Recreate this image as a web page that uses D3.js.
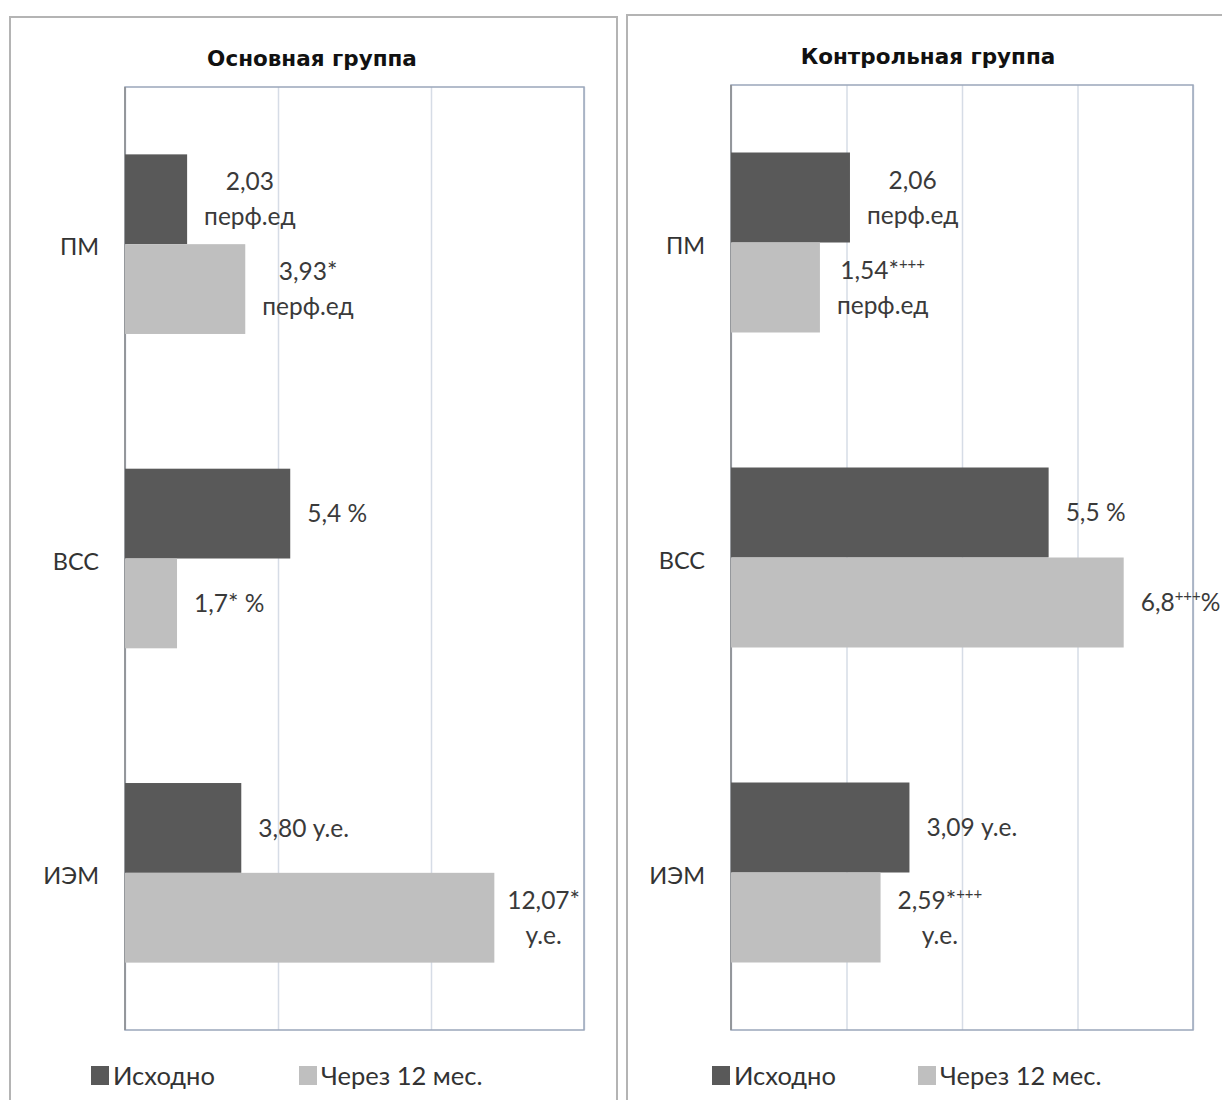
<!DOCTYPE html>
<html>
<head>
<meta charset="utf-8">
<script src="https://cdn.jsdelivr.net/npm/d3@7"></script>
<style>
  html, body { margin: 0; padding: 0; background: #fff; }
  svg { display: block; }
</style>
</head>
<body>
<svg id="chart" width="1222" height="1100"></svg>
<script>
// Categories (top to bottom) and series
const categories = ["ПМ", "ВСС", "ИЭМ"];
const seriesNames = ["Исходно", "Через 12 мес."];

// Основная группа
const mainBaseline = [2.03, 5.4, 3.80];
const mainAfter12 = [3.93, 1.7, 12.07];
const mainBaselineLabels = ["2,03\nперф.ед", "5,4 %", "3,80 у.е."];
const mainAfter12Labels = ["3,93*\nперф.ед", "1,7* %", "12,07*\nу.е."];
const mainTicks = [0, 5, 10, 15];

// Контрольная группа
const ctrlBaseline = [2.06, 5.5, 3.09];
const ctrlAfter12 = [1.54, 6.8, 2.59];
const ctrlBaselineLabels = ["2,06\nперф.ед", "5,5 %", "3,09 у.е."];
const ctrlAfter12Labels = ["1,54*^{+++}\nперф.ед", "6,8^{+++}%", "2,59*^{+++}\nу.е."];
const ctrlTicks = [0, 2, 4, 6, 8];

const seriesColors = ["#595959", "#bfbfbf"];
const labelFont = "Lato, 'Open Sans', sans-serif";
const labelSize = 24.5;

const svg = d3.select("#chart");

function drawPanel(cfg) {
  const g = svg.append("g");

  // outer chart frame
  g.append("rect")
    .attr("x", cfg.frame.x).attr("y", cfg.frame.y)
    .attr("width", cfg.frame.w).attr("height", cfg.frame.h)
    .attr("fill", "#fff").attr("stroke", "#b4b4b4").attr("stroke-width", 2);

  // title
  g.append("text")
    .attr("x", cfg.titleX).attr("y", cfg.titleY)
    .attr("text-anchor", "middle")
    .attr("font-family", "'DejaVu Sans', sans-serif")
    .attr("font-weight", "bold").attr("font-size", 21.5)
    .attr("fill", "#111")
    .text(cfg.title);

  const p = cfg.plot;
  const x = d3.scaleLinear().domain(cfg.domain).range([p.x0, p.x1]);
  const y = d3.scaleBand().domain(categories).range([p.y0, p.y1])
    .paddingInner(0.4286).paddingOuter(0.2143);
  const ySub = d3.scaleBand().domain(seriesNames).range([0, y.bandwidth()]);

  // vertical gridlines from a hidden value axis
  const grid = g.append("g")
    .attr("transform", `translate(0,${p.y1})`)
    .call(d3.axisBottom(x).tickValues(cfg.ticks).tickSize(-(p.y1 - p.y0)).tickFormat(""));
  grid.select(".domain").remove();
  grid.selectAll(".tick line").attr("stroke", "#d6dce6").attr("stroke-width", 1.5);

  // plot-area border
  g.append("rect")
    .attr("x", p.x0).attr("y", p.y0)
    .attr("width", p.x1 - p.x0).attr("height", p.y1 - p.y0)
    .attr("fill", "none").attr("stroke", "#9aa6ba").attr("stroke-width", 1.5);
  g.append("line")
    .attr("x1", p.x0).attr("x2", p.x0).attr("y1", p.y0).attr("y2", p.y1)
    .attr("stroke", "#8c8c8c").attr("stroke-width", 1.5);

  // category labels
  g.selectAll(".cat").data(categories).join("text")
    .attr("x", p.x0 - 26)
    .attr("y", d => y(d) + y.bandwidth() / 2 + 3)
    .attr("dy", "0.35em")
    .attr("text-anchor", "end")
    .attr("font-family", labelFont).attr("font-size", 23.5)
    .attr("fill", "#333")
    .text(d => d);

  const rows = [];
  cfg.series.forEach((vals, si) => {
    vals.forEach((v, ci) => rows.push({
      s: seriesNames[si], si, cat: categories[ci], v, label: cfg.labels[si][ci]
    }));
  });

  g.selectAll(".bar").data(rows).join("rect")
    .attr("x", x(0))
    .attr("y", d => y(d.cat) + ySub(d.s))
    .attr("width", d => x(d.v) - x(0))
    .attr("height", ySub.bandwidth())
    .attr("fill", d => seriesColors[d.si]);

  // data labels: block starts just past bar end, lines centred inside block;
  // wrapped (two-line) labels are kept inside the plot area
  const lineH = 35;
  rows.forEach(d => {
    const lines = d.label.split("\n");
    const cy = y(d.cat) + ySub(d.s) + ySub.bandwidth() / 2;
    const lg = g.append("g");
    const texts = lines.map((ln, i) => {
      const t = lg.append("text")
        .attr("y", cy + (i - (lines.length - 1) / 2) * lineH)
        .attr("dy", "0.35em")
        .attr("text-anchor", "middle")
        .attr("font-family", labelFont).attr("font-size", labelSize)
        .attr("fill", "#3a3a3a");
      const parts = ln.split(/(\^\{[^}]*\})/).filter(s => s.length);
      let shift = 0;
      parts.forEach(part => {
        const m = part.match(/^\^\{([^}]*)\}$/);
        if (m) {
          t.append("tspan").attr("font-size", 15).attr("dy", -10).text(m[1]);
          shift = 10;
        } else {
          const ts = t.append("tspan").text(part);
          if (shift) { ts.attr("dy", shift); shift = 0; }
        }
      });
      return t;
    });
    const w = d3.max(texts, t => t.node().getComputedTextLength());
    let left = x(d.v) + 17;
    if (lines.length > 1 && left + w > p.x1 - 4) left = p.x1 - 4 - w;
    const cx = left + w / 2;
    texts.forEach(t => t.attr("x", cx));
  });

  // legend
  const lg = g.append("g");
  cfg.legend.forEach((lx, i) => {
    lg.append("rect")
      .attr("x", lx).attr("y", cfg.legendY - 10)
      .attr("width", 18).attr("height", 19)
      .attr("fill", seriesColors[i]);
    lg.append("text")
      .attr("x", lx + 22).attr("y", cfg.legendY)
      .attr("dy", "0.35em")
      .attr("font-family", labelFont).attr("font-size", 25.5)
      .attr("fill", "#333")
      .text(seriesNames[i]);
  });
}

drawPanel({
  frame: { x: 10, y: 17, w: 607, h: 1110 },
  title: "Основная группа", titleX: 312, titleY: 66,
  plot: { x0: 125, x1: 584, y0: 87, y1: 1030 },
  domain: [0, 15], ticks: mainTicks,
  series: [mainBaseline, mainAfter12],
  labels: [mainBaselineLabels, mainAfter12Labels],
  legend: [91, 299], legendY: 1076
});

drawPanel({
  frame: { x: 627, y: 15, w: 620, h: 1110 },
  title: "Контрольная группа", titleX: 928, titleY: 64,
  plot: { x0: 731, x1: 1193, y0: 85, y1: 1030 },
  domain: [0, 8], ticks: ctrlTicks,
  series: [ctrlBaseline, ctrlAfter12],
  labels: [ctrlBaselineLabels, ctrlAfter12Labels],
  legend: [712, 918], legendY: 1076
});
</script>
</body>
</html>
